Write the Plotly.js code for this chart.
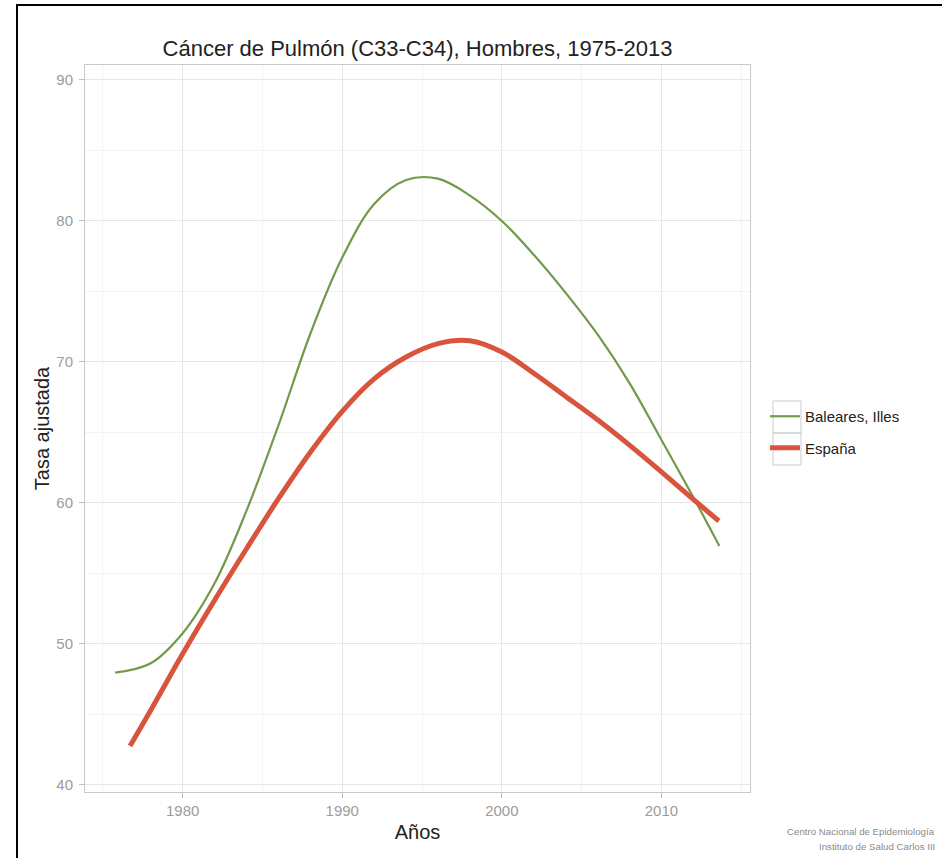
<!DOCTYPE html>
<html>
<head>
<meta charset="utf-8">
<script src="https://cdn.plot.ly/plotly-3.0.1.min.js"></script>
<style>
  html, body { margin: 0; padding: 0; background: #ffffff; overflow: hidden; }
  #wrap { position: relative; width: 942px; height: 858px; }
  #chart { position: absolute; left: 0; top: 0; width: 942px; height: 858px; }
  #frame { position: absolute; left: 16px; top: 4px; width: 940px; height: 870px;
           border-left: 2px solid #000; border-top: 2px solid #000; pointer-events: none; z-index: 5; }
</style>
</head>
<body>
<div id="wrap">
  <div id="chart"></div>
  <div id="frame"></div>
</div>
<script>
// ---- data ----
const chartTitle = "Cáncer de Pulmón (C33-C34), Hombres, 1975-2013";
const xTitle = "Años";
const yTitle = "Tasa ajustada";
const seriesNames = ["Baleares, Illes", "España"];

const balearesYears = [1975.77, 1978, 1980, 1982, 1984, 1986, 1988, 1990, 1992, 1994, 1996, 1998, 2000, 2002, 2004, 2006, 2008, 2010, 2012, 2013.63];
const balearesRates = [47.96, 48.63, 50.76, 54.3, 59.45, 65.5, 72.0, 77.4, 81.2, 82.9, 83.0, 81.8, 80.0, 77.6, 74.9, 71.95, 68.5, 64.47, 60.4, 56.95];

const espanaYears = [1976.7, 1978, 1980, 1982, 1984, 1986, 1988, 1990, 1992, 1994, 1996, 1998, 2000, 2002, 2004, 2006, 2008, 2010, 2012, 2013.6];
const espanaRates = [42.77, 45.3, 49.3, 53.1, 56.75, 60.3, 63.6, 66.5, 68.8, 70.35, 71.3, 71.5, 70.7, 69.2, 67.55, 65.9, 64.1, 62.2, 60.25, 58.72];

const xTicks = [1980, 1990, 2000, 2010];
const yTicks = [40, 50, 60, 70, 80, 90];
const captionLines = ["Centro Nacional de Epidemiología", "Instituto de Salud Carlos III"];

// ---- figure ----
const W = 942, H = 858;
const M = {l: 85, r: 192, t: 65, b: 66};
const pw = W - M.l - M.r, ph = H - M.t - M.b;
const px = v => (v - M.l) / pw;
const py = v => (H - M.b - v) / ph;

const traces = [
  {x: balearesYears, y: balearesRates, name: seriesNames[0], type: "scatter", mode: "lines",
   line: {color: "#73994a", width: 2.2, shape: "spline", smoothing: 1}, legendgroup: "a"},
  {x: espanaYears, y: espanaRates, name: seriesNames[1], type: "scatter", mode: "lines",
   line: {color: "#d9543c", width: 5, shape: "spline", smoothing: 1}, legendgroup: "b"}
];

const axisCommon = {
  showline: true, mirror: true, linecolor: "#c9c9c9", linewidth: 1,
  showgrid: true, gridcolor: "#e6e6e6", gridwidth: 1,
  ticks: "outside", ticklen: 5, tickcolor: "#bdbdbd", tickwidth: 1,
  tickfont: {family: "Liberation Sans, Arial, sans-serif", size: 15, color: "#9c9c9c"},
  zeroline: false, automargin: false
};

const layout = {
  width: W, height: H,
  margin: M,
  paper_bgcolor: "#ffffff", plot_bgcolor: "#ffffff",
  font: {family: "Liberation Sans, Arial, sans-serif", color: "#222222"},
  title: {text: chartTitle, xref: "paper", x: 0.5, xanchor: "center", y: 1 - 48 / H, yanchor: "middle",
          yref: "container", font: {size: 22, color: "#222222"}},
  xaxis: Object.assign({}, axisCommon, {
    range: [1973.88, 2015.55], tickvals: xTicks, ticktext: xTicks.map(String),
    minor: {dtick: 5, tick0: 1975, showgrid: true, gridcolor: "#f3f3f3", ticks: ""},
    title: {text: xTitle, font: {size: 20, color: "#222222"}, standoff: 6}
  }),
  yaxis: Object.assign({}, axisCommon, {
    range: [39.5, 91.06], tickvals: yTicks, ticktext: yTicks.map(String),
    minor: {dtick: 5, tick0: 45, showgrid: true, gridcolor: "#f3f3f3", ticks: ""},
    ticklabelstandoff: 3,
    title: {text: yTitle, font: {size: 20, color: "#222222"}, standoff: 1}
  }),
  showlegend: true,
  legend: {x: px(765), y: py(400), xanchor: "left", yanchor: "top",
           bgcolor: "rgba(0,0,0,0)", borderwidth: 0, tracegroupgap: 9,
           font: {size: 15, color: "#222222"}},
  shapes: [
    {type: "rect", xref: "paper", yref: "paper", x0: px(773), x1: px(801), y0: py(401), y1: py(433),
     line: {color: "#cccccc", width: 1}, fillcolor: "rgba(0,0,0,0)", layer: "below"},
    {type: "rect", xref: "paper", yref: "paper", x0: px(773), x1: px(801), y0: py(433), y1: py(465),
     line: {color: "#cccccc", width: 1}, fillcolor: "rgba(0,0,0,0)", layer: "below"}
  ],
  annotations: [
    {text: captionLines[0], xref: "paper", yref: "paper", x: px(937), y: py(831), xanchor: "right", yanchor: "middle",
     showarrow: false, font: {size: 9.7, color: "#8a8a8a"}},
    {text: captionLines[1], xref: "paper", yref: "paper", x: px(937), y: py(846), xanchor: "right", yanchor: "middle",
     showarrow: false, font: {size: 9.7, color: "#8a8a8a"}}
  ]
};

Plotly.newPlot("chart", traces, layout, {displayModeBar: false, staticPlot: true});
</script>
</body>
</html>
